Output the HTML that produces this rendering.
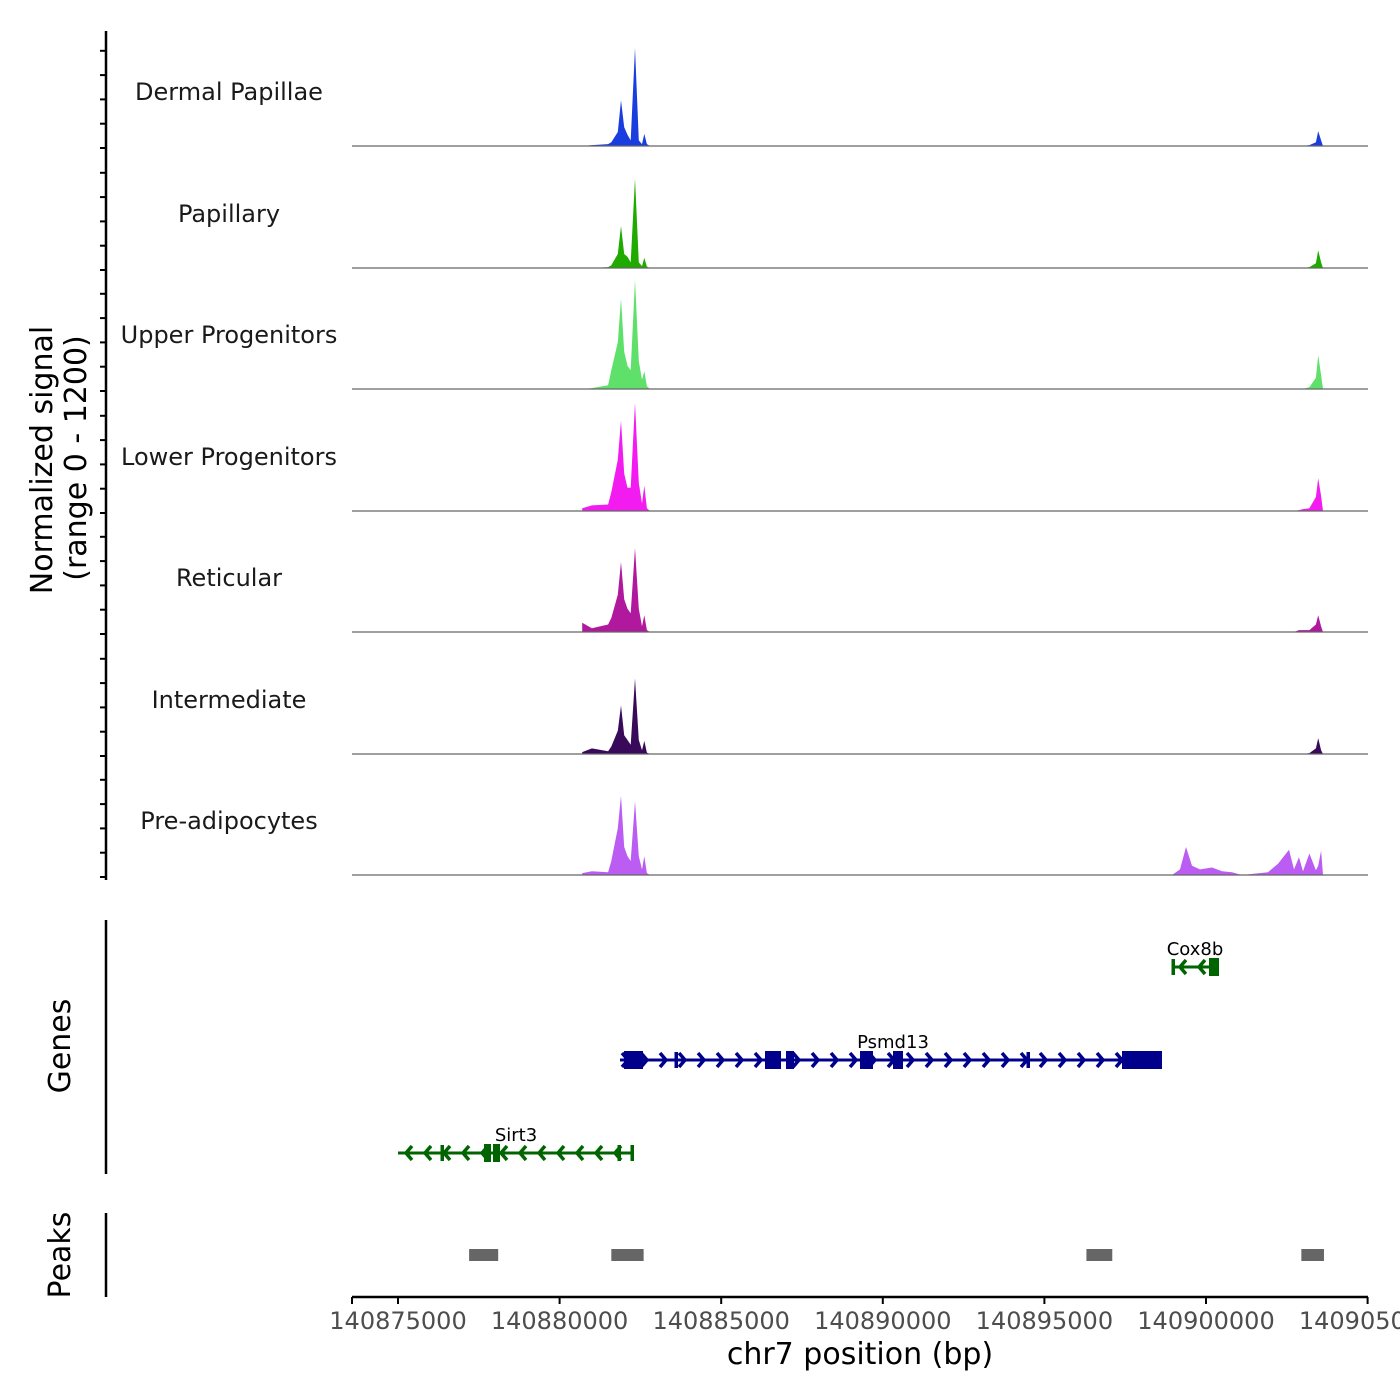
<!DOCTYPE html>
<html><head><meta charset="utf-8"><style>
body{margin:0;background:#fff}
svg{display:block;font-family:"DejaVu Sans","Liberation Sans",sans-serif}
</style></head><body>
<svg id="chart" width="1400" height="1400" viewBox="0 0 1400 1400"></svg>
<script>
// ---- data ----
const trackNames = ["Dermal Papillae","Papillary","Upper Progenitors","Lower Progenitors","Reticular","Intermediate","Pre-adipocytes"];
const trackColors = ["#1a3de0","#1faa00","#5ee06a","#f21cf0","#b0189e","#3a0a5a","#bb5cf2"];
const gridBp = [140880700,140881000,140881500,140881600,140881800,140881900,140882000,140882100,140882200,140882333,140882450,140882550,140882620,140882700,140882800,
 140898948,140899196,140899381,140899567,140899814,140900186,140900495,140900804,140901114,140901918,140902228,140902568,140902723,140902877,
 140903000,140903200,140903400,140903470,140903560,140903620];
const sigDermal = [0,10,20,40,150,490,200,120,60,1050,60,20,130,20,0, 0,0,0,0,0,0,0,0,0,0,0,0,0,0, 0,10,40,160,60,0];
const sigPapillary = [0,0,10,30,150,450,150,120,60,960,60,20,110,15,0, 0,0,0,0,0,0,0,0,0,0,0,0,0,0, 0,10,50,190,60,0];
const sigUpper = [0,10,40,200,500,970,400,250,200,1170,300,100,190,30,0, 0,0,0,0,0,0,0,0,0,0,0,0,0,0, 0,20,120,360,150,0];
const sigLower = [30,60,70,200,550,970,400,250,250,1160,300,80,270,30,0, 0,0,0,0,0,0,0,0,0,0,0,0,0,10, 20,30,150,350,160,0];
const sigReticular = [100,40,80,150,400,750,350,250,200,900,250,60,180,20,0, 0,0,0,0,0,0,0,0,0,0,0,0,0,20, 20,20,80,180,60,0];
const sigIntermediate = [20,60,30,80,250,520,200,150,100,810,150,40,140,15,0, 0,0,0,0,0,0,0,0,0,0,0,0,0,0, 0,10,60,170,40,0];
const sigPreadipocytes = [20,40,30,150,500,850,300,200,150,790,200,60,200,20,0, 0,60,300,100,60,80,40,30,0,30,120,270,60,190, 40,230,50,100,260,0];
const signals = [sigDermal,sigPapillary,sigUpper,sigLower,sigReticular,sigIntermediate,sigPreadipocytes];
const xTicks = [140875000,140880000,140885000,140890000,140895000,140900000,140905000];
const peaksStart = [140877200,140881600,140896300,140902950];
const peaksEnd = [140878100,140882600,140897100,140903650];

// ---- scales ----
const X0=398, BP0=140875000, K=0.03232;
const x = bp => X0 + (bp-BP0)*K;
const baselines=[146,268,389,511,632,754,875];
const yv = (v,b) => b - v/1200*112;

const svg=document.getElementById('chart');
const NS='http://www.w3.org/2000/svg';
function mk(tag,attrs,parent){const e=document.createElementNS(NS,tag);for(const k in attrs)e.setAttribute(k,attrs[k]);(parent||svg).appendChild(e);return e;}

// tracks
signals.forEach((s,t)=>{
  const b=baselines[t];
  const g=mk('g',{});
  
  
  let d='M'+x(gridBp[0])+','+b;
  s.forEach((v,i)=>{d+=' L'+x(gridBp[i]).toFixed(1)+','+yv(v,b).toFixed(1);});
  d+=' L'+x(gridBp[gridBp.length-1])+','+b+' Z';
  const p=mk('path',{d:d,fill:trackColors[t]},g);
  
  
  const l=mk('line',{x1:352,x2:1368,y1:b,y2:b,stroke:'#666','stroke-width':1.2},g);
  
  
  const tx=mk('text',{x:229,y:b-46,'text-anchor':'middle','font-size':24,fill:'#1a1a1a'},g);
  tx.textContent=trackNames[t];
  
  
});

// left signal axis
mk('line',{x1:106,x2:106,y1:31,y2:880,stroke:'#000','stroke-width':2.5});
for(let t=0;t<7;t++){for(let k=0;k<5;k++){const yy=baselines[t]-k*24.3+2;if(yy<31)continue;mk('line',{x1:100,x2:106,y1:yy,y2:yy,stroke:'#000','stroke-width':2});}}
let yt=mk('text',{x:52,y:460,'text-anchor':'middle','font-size':30,transform:'rotate(-90 52 460)'});yt.textContent='Normalized signal';

yt=mk('text',{x:86,y:458,'text-anchor':'middle','font-size':30,transform:'rotate(-90 86 458)'});yt.textContent='(range 0 - 1200)';


// genes panel
mk('line',{x1:106,x2:106,y1:920,y2:1174,stroke:'#000','stroke-width':2.5});
let gt=mk('text',{x:70,y:1046,'text-anchor':'middle','font-size':30,transform:'rotate(-90 70 1046)'});gt.textContent='Genes';

function gene(name,y,x1,x2,col,dir,exons,ticks,lx,ly){
  const g=mk('g',{});
  
  
  mk('line',{x1:x1,x2:x2,y1:y,y2:y,stroke:col,'stroke-width':3},g);
  for(let cx=x1+8;cx<x2-4;cx+=19){const a=dir>0?-6:6;mk('polyline',{points:(cx+a)+','+(y-7)+' '+cx+','+y+' '+(cx+a)+','+(y+7),fill:'none',stroke:col,'stroke-width':3.5},g);}
  exons.forEach(e=>mk('rect',{x:e[0],y:y-9,width:e[1]-e[0],height:18,fill:col},g));
  ticks.forEach(t=>mk('rect',{x:t-1.5,y:y-8,width:3.5,height:16,fill:col},g));
  const tx=mk('text',{x:lx,y:ly,'text-anchor':'middle','font-size':18,fill:'#000'},g);tx.textContent=name;
}
gene('Cox8b',967,1172,1219,'#006400',-1,[[1209,1219]],[1173],1195,955);
gene('Psmd13',1060,620,1162,'#00008b',1,[[624,643],[765,781],[786,794],[860,873],[893,903],[1122,1162]],[676,1028],893,1048);
gene('Sirt3',1153,398,634,'#006400',-1,[[484,491],[493,500]],[442,619,632],516,1141);

// peaks panel
mk('line',{x1:106,x2:106,y1:1213,y2:1297,stroke:'#000','stroke-width':2.5});
let pt=mk('text',{x:70,y:1255,'text-anchor':'middle','font-size':30,transform:'rotate(-90 70 1255)'});pt.textContent='Peaks';

peaksStart.forEach((s,i)=>{const r=mk('rect',{x:x(s),y:1249,width:x(peaksEnd[i])-x(s),height:12,fill:'#666'});
  });

// x axis
mk('line',{x1:352,x2:1368,y1:1297,y2:1297,stroke:'#000','stroke-width':2.5});
xTicks.forEach(t=>{mk('line',{x1:x(t),x2:x(t),y1:1297,y2:1304,stroke:'#000','stroke-width':2});
  const tx=mk('text',{x:x(t),y:1329,'text-anchor':'middle','font-size':24,fill:'#4d4d4d'});tx.textContent=t;
  });
mk('line',{x1:352,x2:352,y1:1297,y2:1304,stroke:'#000','stroke-width':2});
const xt=mk('text',{x:860,y:1364,'text-anchor':'middle','font-size':30});xt.textContent='chr7 position (bp)';

</script>
</body></html>
